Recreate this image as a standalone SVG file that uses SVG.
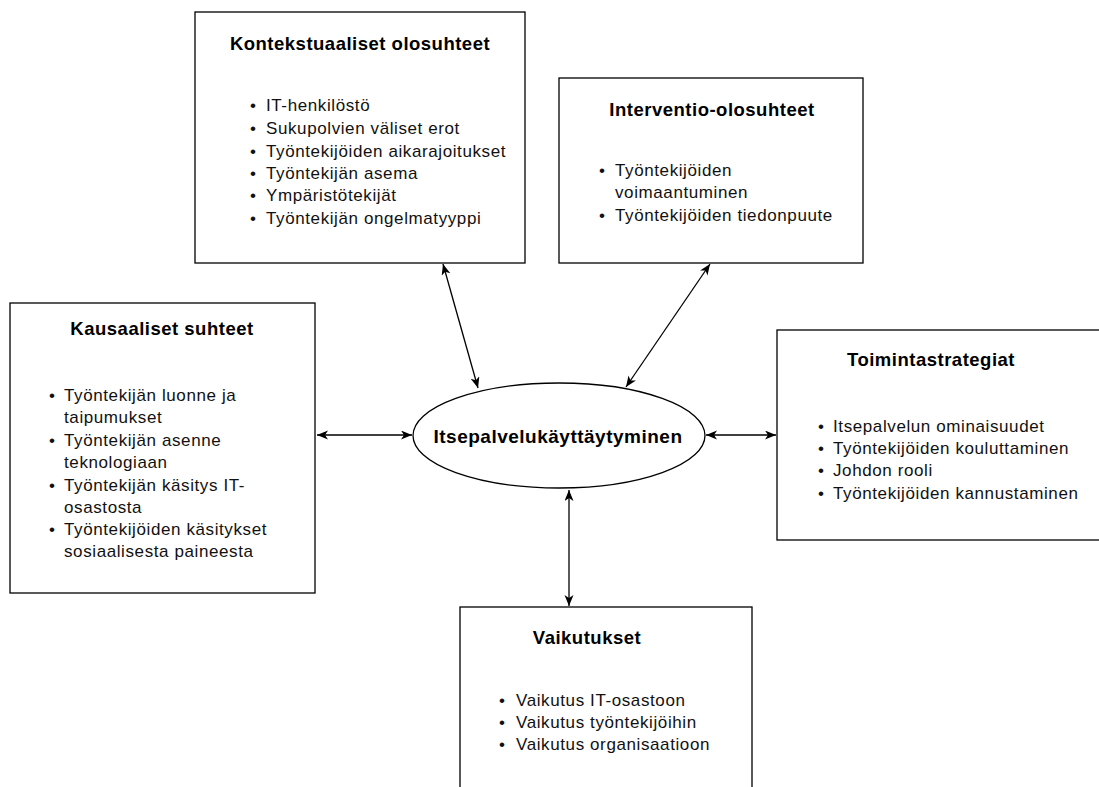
<svg xmlns="http://www.w3.org/2000/svg" width="1099" height="787" viewBox="0 0 1099 787">
<style>
.box{fill:#fff;stroke:#000;stroke-width:1.3}
.title{font-family:"Liberation Sans",Arial,sans-serif;font-size:18.5px;letter-spacing:0.5px;font-weight:bold;fill:#000;text-anchor:middle}
.item{font-family:"Liberation Sans",Arial,sans-serif;font-size:17px;letter-spacing:0.6px;fill:#111}
.conn{stroke:#000;stroke-width:1.3;fill:none;marker-start:url(#arr);marker-end:url(#arr)}
</style>
<defs>
<marker id="arr" markerUnits="userSpaceOnUse" markerWidth="12" markerHeight="10" refX="11" refY="4.5" orient="auto-start-reverse">
<path d="M0,0 L11,4.5 L0,9 L3,4.5 z" fill="#000"/>
</marker>
</defs>
<rect width="1099" height="787" fill="#fff"/>
<g id="kontekstuaaliset">
<rect class="box" x="195" y="12" width="330" height="251"/>
<text class="title" x="360" y="50">Kontekstuaaliset olosuhteet</text>
<g class="item">
<text x="250" y="111">•</text><text x="266" y="111">IT-henkilöstö</text>
<text x="250" y="134">•</text><text x="266" y="134">Sukupolvien väliset erot</text>
<text x="250" y="157">•</text><text x="266" y="157">Työntekijöiden aikarajoitukset</text>
<text x="250" y="179">•</text><text x="266" y="179">Työntekijän asema</text>
<text x="250" y="201">•</text><text x="266" y="201">Ympäristötekijät</text>
<text x="250" y="224">•</text><text x="266" y="224">Työntekijän ongelmatyyppi</text>
</g>
</g>
<g id="interventio">
<rect class="box" x="559" y="78" width="304" height="185"/>
<text class="title" x="712" y="116">Interventio-olosuhteet</text>
<g class="item">
<text x="599" y="176">•</text><text x="615" y="176">Työntekijöiden</text>
<text x="615" y="198">voimaantuminen</text>
<text x="599" y="221">•</text><text x="615" y="221">Työntekijöiden tiedonpuute</text>
</g>
</g>
<g id="kausaaliset">
<rect class="box" x="10" y="303" width="305" height="290"/>
<text class="title" x="162" y="335">Kausaaliset suhteet</text>
<g class="item">
<text x="49" y="401">•</text><text x="64" y="401">Työntekijän luonne ja</text>
<text x="64" y="423">taipumukset</text>
<text x="49" y="446">•</text><text x="64" y="446">Työntekijän asenne</text>
<text x="64" y="468">teknologiaan</text>
<text x="49" y="491">•</text><text x="64" y="491">Työntekijän käsitys IT-</text>
<text x="64" y="513">osastosta</text>
<text x="49" y="535">•</text><text x="64" y="535">Työntekijöiden käsitykset</text>
<text x="64" y="557">sosiaalisesta paineesta</text>
</g>
</g>
<g id="toimintastrategiat">
<rect class="box" x="777" y="330" width="330" height="210"/>
<text class="title" x="931" y="366">Toimintastrategiat</text>
<g class="item">
<text x="818" y="432">•</text><text x="833" y="432">Itsepalvelun ominaisuudet</text>
<text x="818" y="454">•</text><text x="833" y="454">Työntekijöiden kouluttaminen</text>
<text x="818" y="476">•</text><text x="833" y="476">Johdon rooli</text>
<text x="818" y="499">•</text><text x="833" y="499">Työntekijöiden kannustaminen</text>
</g>
</g>
<g id="vaikutukset">
<rect class="box" x="460" y="607" width="292" height="200"/>
<text class="title" x="587" y="644">Vaikutukset</text>
<g class="item">
<text x="499" y="706">•</text><text x="516" y="706">Vaikutus IT-osastoon</text>
<text x="499" y="728">•</text><text x="516" y="728">Vaikutus työntekijöihin</text>
<text x="499" y="750">•</text><text x="516" y="750">Vaikutus organisaatioon</text>
</g>
</g>
<g id="itsepalvelu">
<ellipse cx="559" cy="435.5" rx="146" ry="52.5" fill="#fff" stroke="#000" stroke-width="1.3"/>
<text class="title" x="558" y="443" style="font-size:19px">Itsepalvelukäyttäytyminen</text>
</g>
<g id="connectors">
<line class="conn" x1="317" y1="435" x2="412" y2="435"/>
<line class="conn" x1="706" y1="435" x2="776" y2="435"/>
<line class="conn" x1="569" y1="490" x2="569" y2="606"/>
<line class="conn" x1="443" y1="264" x2="478" y2="388"/>
<line class="conn" x1="710" y1="264" x2="626" y2="387"/>
</g>
</svg>
